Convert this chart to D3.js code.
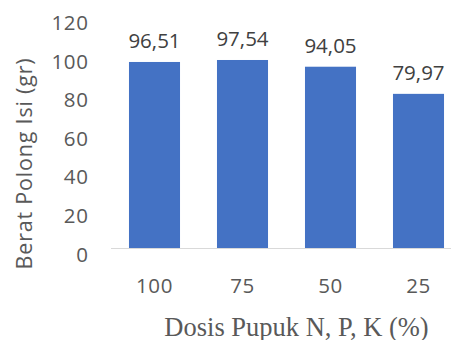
<!DOCTYPE html>
<html>
<head>
<meta charset="utf-8">
<script src="https://cdn.jsdelivr.net/npm/d3@7"></script>
<style>
  html, body { margin: 0; padding: 0; background: #fff; }
  svg { display: block; }
</style>
</head>
<body>
<svg id="chart" width="451" height="340"></svg>
<script>
// Dosis pupuk categories and mean filled-pod weight (g)
const categories = ["100", "75", "50", "25"];
const values = [96.51, 97.54, 94.05, 79.97];
const valueLabels = ["96,51", "97,54", "94,05", "79,97"];
const yTicks = [0, 20, 40, 60, 80, 100, 120];

const svg = d3.select("#chart");
const sans = "'Open Sans', 'Segoe UI', sans-serif";
const serif = "'Liberation Serif', 'Times New Roman', serif";

const x = d3.scaleBand()
  .domain(categories)
  .range([110.5, 462.5])
  .paddingInner(0.42)
  .paddingOuter(0.21);

const y = d3.scaleLinear()
  .domain([0, 120])
  .range([248, 16.7]);

// y tick labels (no axis line, no gridlines)
svg.append("g")
  .selectAll("text")
  .data(yTicks)
  .join("text")
  .attr("x", 88.5)
  .attr("y", d => y(d) + 13.5)
  .attr("text-anchor", "end")
  .attr("font-family", sans)
  .attr("font-size", 20.5)
  .attr("letter-spacing", 0.6)
  .attr("fill", "#595959")
  .text(d => d);

// bars
svg.append("g")
  .selectAll("rect")
  .data(values)
  .join("rect")
  .attr("x", (d, i) => x(categories[i]))
  .attr("y", d => y(d))
  .attr("width", x.bandwidth())
  .attr("height", d => y(0) - y(d))
  .attr("fill", "#4472C4");

// value labels above bars
svg.append("g")
  .selectAll("text")
  .data(values)
  .join("text")
  .attr("x", (d, i) => x(categories[i]) + x.bandwidth() / 2)
  .attr("y", d => y(d) - 13.5)
  .attr("text-anchor", "middle")
  .attr("font-family", sans)
  .attr("font-size", 20.5)
  .attr("fill", "#404040")
  .text((d, i) => valueLabels[i]);

// category axis baseline
svg.append("line")
  .attr("x1", 111).attr("x2", 462.5)
  .attr("y1", y(0) + 0.5).attr("y2", y(0) + 0.5)
  .attr("stroke", "#d9d9d9")
  .attr("stroke-width", 1.2);

// category labels
svg.append("g")
  .selectAll("text")
  .data(categories)
  .join("text")
  .attr("x", d => x(d) + x.bandwidth() / 2)
  .attr("y", 292.5)
  .attr("text-anchor", "middle")
  .attr("font-family", sans)
  .attr("font-size", 20.5)
  .attr("letter-spacing", 0.6)
  .attr("fill", "#595959")
  .text(d => d);

// axis titles
svg.append("text")
  .attr("x", 296.5)
  .attr("y", 335.5)
  .attr("text-anchor", "middle")
  .attr("font-family", serif)
  .attr("font-size", 26.5)
  .attr("fill", "#595959")
  .text("Dosis Pupuk N, P, K (%)");

svg.append("text")
  .attr("transform", "translate(32,163.5) rotate(-90)")
  .attr("text-anchor", "middle")
  .attr("font-family", sans)
  .attr("font-size", 21.5)
  .attr("letter-spacing", 0.8)
  .attr("fill", "#595959")
  .text("Berat Polong Isi (gr)");
</script>
</body>
</html>
